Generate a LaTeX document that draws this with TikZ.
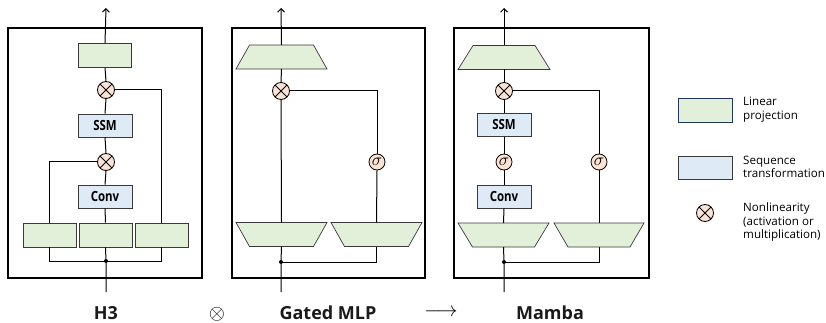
\documentclass[tikz,border=0pt]{standalone}
\usepackage{fontspec}
\setmainfont{Open Sans}
\usepackage{graphicx}
\usetikzlibrary{arrows.meta}
\definecolor{projgreen}{HTML}{E2EFD9}
\definecolor{seqblue}{HTML}{DEEAF6}
\definecolor{nlpeach}{HTML}{FBE3D3}
\definecolor{edgegray}{HTML}{3A3A3A}
\definecolor{navy}{HTML}{203864}
\definecolor{titlegray}{HTML}{1A1A1A}
\tikzset{
  outerbox/.style={draw=black, line width=1.6pt},
  conn/.style={draw=black, line width=1pt},
  proj/.style={rectangle, draw=edgegray, fill=projgreen, line width=0.7pt, minimum width=53pt, minimum height=24pt, inner sep=0pt},
  seqt/.style={rectangle, draw=edgegray, fill=seqblue, line width=0.7pt, minimum width=54pt, minimum height=23pt, inner sep=0pt, font=\fontsize{14}{14}\selectfont\bfseries},
  trapstyle/.style={draw=edgegray, fill=projgreen, line width=0.7pt, line join=miter},
  mult/.style={circle, draw=black, fill=nlpeach, line width=0.8pt, minimum size=17pt, inner sep=0pt,
    path picture={\draw[line width=0.8pt] (path picture bounding box.north west) -- (path picture bounding box.south east) (path picture bounding box.north east) -- (path picture bounding box.south west);}},
  sig/.style={circle, draw=black, fill=nlpeach, line width=0.8pt, minimum size=16pt, inner sep=0pt, font=\fontsize{16}{16}\selectfont},
  jdot/.style={circle, fill=black, minimum size=4pt, inner sep=0pt},
  outarrow/.style={conn, -{Straight Barb[length=3.5pt,width=7pt,line width=1pt]}},
  title/.style={font=\fontsize{18}{20}\selectfont\bfseries, text=titlegray, anchor=base},
  legtext/.style={font=\fontsize{11.6}{13.5}\selectfont, align=left, anchor=west, inner sep=0pt},
}
\newcommand{\cond}[1]{\scalebox{0.82}[1]{#1}}
% name, cx, cy, top width, bottom width (height 24)
\newcommand{\drawtrap}[5]{%
  \coordinate (#1-n) at (#2,{#3-12});
  \coordinate (#1-s) at (#2,{#3+12});
  \draw[trapstyle] ({#2-#4/2},{#3-12}) -- ({#2+#4/2},{#3-12}) -- ({#2+#5/2},{#3+12}) -- ({#2-#5/2},{#3+12}) -- cycle;}
\begin{document}
\begin{tikzpicture}[x=1pt,y=-1pt]
\useasboundingbox (0,0) rectangle (826,323);

% ---------------- H3 ----------------
\draw[outerbox] (8,28) rectangle (202,278);
\node[proj] (h3top) at (105,55.5) {};
\node[mult] (h3m1) at (106,90) {};
\node[seqt] (h3ssm) at (105,125.5) {\cond{SSM}};
\node[mult] (h3m2) at (106,162) {};
\node[seqt] (h3conv) at (105,196.5) {\cond{Conv}};
\node[proj] (h3p1) at (49.5,235) {};
\node[proj] (h3p2) at (105.5,235) {};
\node[proj] (h3p3) at (161.5,235) {};
\node[jdot] (h3dot) at (106,261) {};
\coordinate (h3in) at (106,292);
\coordinate (h3out) at (106,8);
\draw[conn] (h3in) -- (h3dot) -- (h3p2.south);
\draw[conn] (h3dot.center) -| (h3p1.south);
\draw[conn] (h3dot.center) -| (h3p3.south);
\draw[conn] (h3p2.north) -- (h3conv.south);
\draw[conn] (h3conv.north) -- (h3m2.south);
\draw[conn] (h3m2.north) -- (h3ssm.south);
\draw[conn] (h3ssm.north) -- (h3m1.south);
\draw[conn] (h3m1.north) -- (h3top.south);
\draw[outarrow] (h3top.north) -- (h3out);
\draw[conn] (h3p1.north) |- (h3m2.west);
\draw[conn] (h3p3.north) |- (h3m1.east);

% ---------------- Gated MLP ----------------
\draw[outerbox] (232,28) rectangle (425,278);
\drawtrap{gtop}{281.5}{57}{64}{91}
\node[mult] (gm) at (281,91) {};
\node[sig] (gsig) at (377,162) {$\sigma$};
\drawtrap{gt1}{281.5}{234.5}{91}{64}
\drawtrap{gt2}{376.5}{234.5}{91}{64}
\node[jdot] (gdot) at (281,262) {};
\coordinate (gin) at (281,292);
\coordinate (gout) at (281,8);
\draw[conn] (gin) -- (gdot) -- (gt1-s);
\draw[conn] (gdot.center) -| (gt2-s);
\draw[conn] (gt1-n) -- (gm.south);
\draw[conn] (gm.north) -- (gtop-s);
\draw[outarrow] (gtop-n) -- (gout);
\draw[conn] (gt2-n) -- (gsig.south);
\draw[conn] (gsig.north) |- (gm.east);

% ---------------- Mamba ----------------
\draw[outerbox] (454,28) rectangle (649,278);
\drawtrap{mtop}{504}{57.5}{62}{92}
\node[mult] (mm) at (504,91) {};
\node[seqt] (mssm) at (504,125) {\cond{SSM}};
\node[sig] (msig1) at (504,162) {$\sigma$};
\node[seqt] (mconv) at (504,196.5) {\cond{Conv}};
\node[sig] (msig2) at (599,162) {$\sigma$};
\drawtrap{mt1}{503.5}{235}{91}{62}
\drawtrap{mt2}{599}{235}{90}{62}
\node[jdot] (mdot) at (504,262) {};
\coordinate (min) at (504,292);
\coordinate (mout) at (504,8);
\draw[conn] (min) -- (mdot) -- (mt1-s);
\draw[conn] (mdot.center) -| (mt2-s);
\draw[conn] (mt1-n) -- (mconv.south);
\draw[conn] (mconv.north) -- (msig1.south);
\draw[conn] (msig1.north) -- (mssm.south);
\draw[conn] (mssm.north) -- (mm.south);
\draw[conn] (mm.north) -- (mtop-s);
\draw[outarrow] (mtop-n) -- (mout);
\draw[conn] (mt2-n) -- (msig2.south);
\draw[conn] (msig2.north) |- (mm.east);

% ---------------- Titles ----------------
\node[title] (lh3) at (106,319.5) {H3};
\node[anchor=base, inner sep=0pt] (lotimes) at (217,319) {\fontsize{20}{20}\selectfont$\otimes$};
\node[title] (lgmlp) at (328,319.5) {Gated MLP};
\node[anchor=base, inner sep=0pt] (larrow) at (441,316) {\fontsize{21}{21}\selectfont$\longrightarrow$};
\node[title] (lmamba) at (550,319.5) {Mamba};

% ---------------- Legend ----------------
\node[proj, draw=navy, minimum width=54pt] (legproj) at (705,110) {};
\node[seqt] (legseq) at (705,168) {};
\node[mult] (legnl) at (705,213) {};
\node[legtext] (legt1) at (743,109.5) {Linear\\projection};
\node[legtext] (legt2) at (743,167) {Sequence\\transformation};
\node[legtext] (legt3) at (743,222) {Nonlinearity\\(activation or\\multiplication)};
\end{tikzpicture}
\end{document}
